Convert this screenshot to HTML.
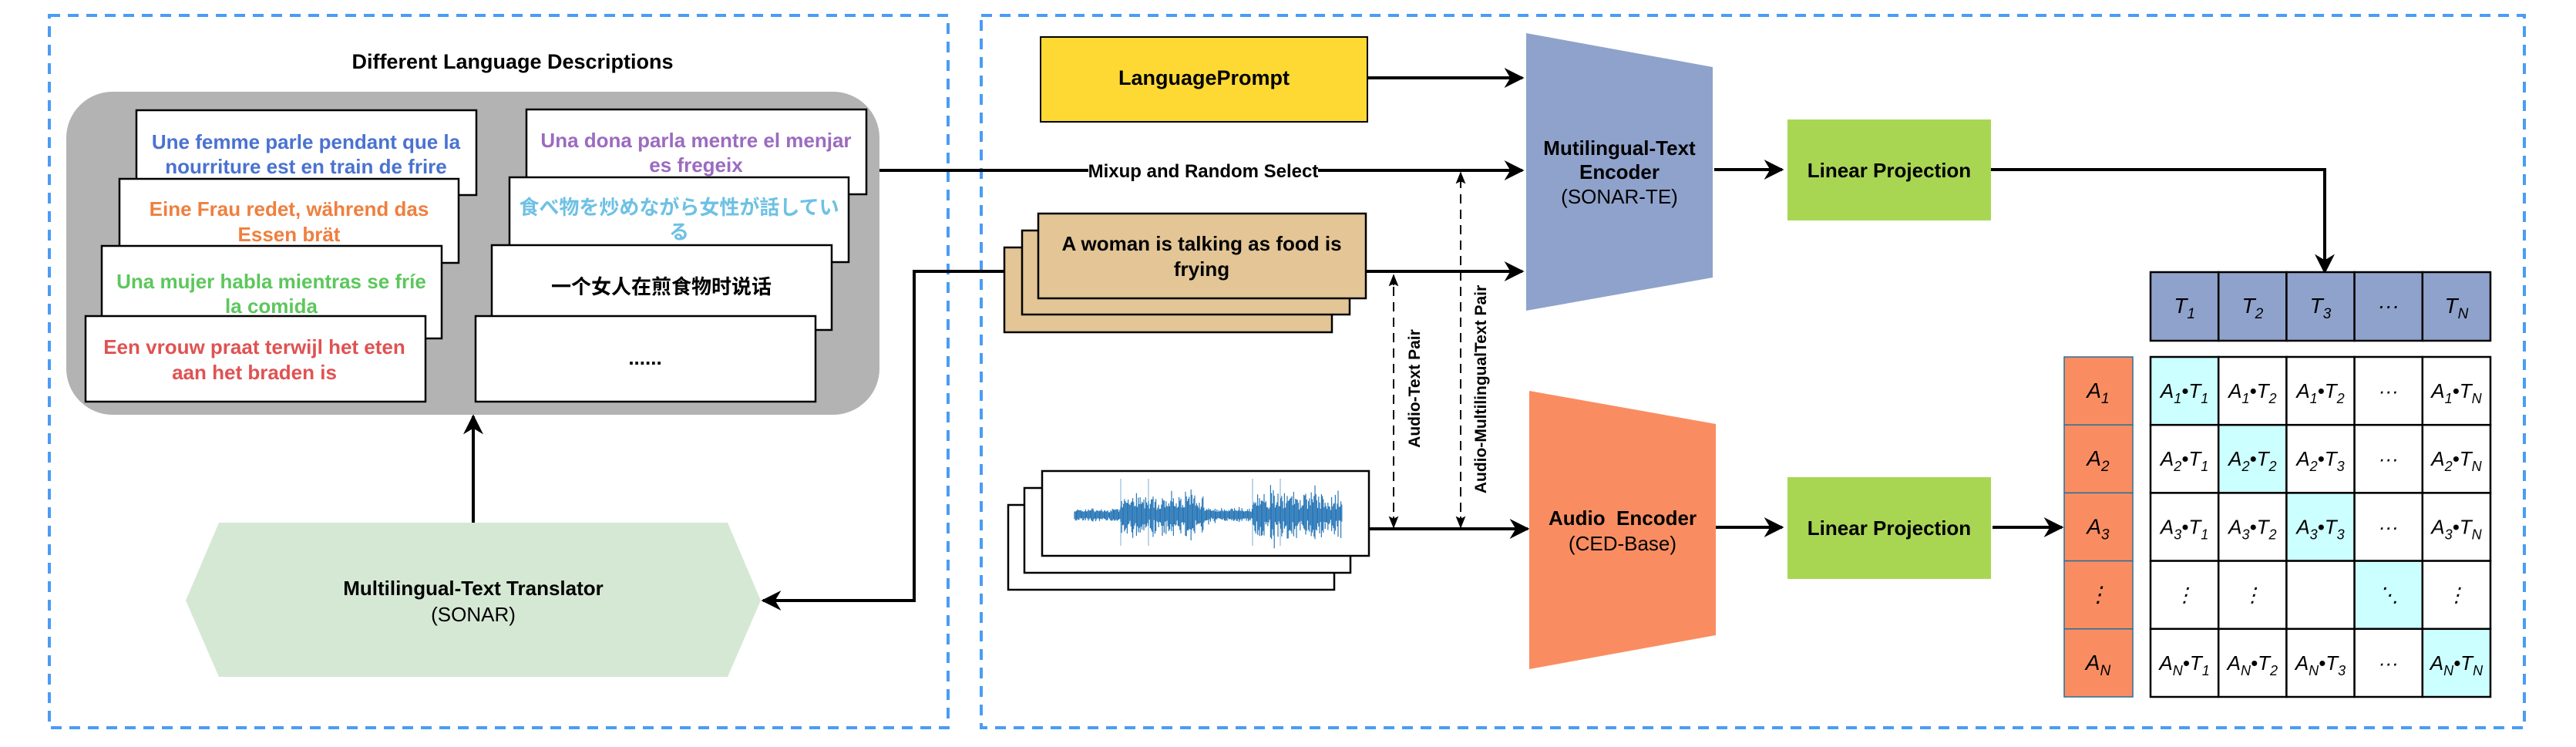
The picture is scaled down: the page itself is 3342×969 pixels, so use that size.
<!DOCTYPE html>
<html><head><meta charset="utf-8"><style>
html,body{margin:0;padding:0;background:#fff;}
svg{display:block;}
text{font-family:"Liberation Sans","Noto Sans CJK SC",sans-serif;}
.b{font-weight:bold;}
</style></head><body>
<svg width="3342" height="969" viewBox="0 0 3342 969" xmlns="http://www.w3.org/2000/svg">
<defs>
<marker id="big" viewBox="0 0 10 10" refX="9" refY="5" markerWidth="26" markerHeight="26" markerUnits="userSpaceOnUse" orient="auto"><path d="M0,0 L10,5 L0,10 L3,5 Z" fill="#000"/></marker>
<marker id="sm" viewBox="0 0 10 10" refX="9" refY="5" markerWidth="16" markerHeight="16" markerUnits="userSpaceOnUse" orient="auto"><path d="M0,1 L10,5 L0,9 L2,5 Z" fill="#000"/></marker>
</defs>
<rect x="64" y="20" width="1166" height="924" fill="none" stroke="#4a9cf5" stroke-width="4" stroke-dasharray="14,10"/>
<rect x="1273" y="20" width="2002" height="924" fill="none" stroke="#4a9cf5" stroke-width="4" stroke-dasharray="14,10"/>

<text x="665" y="89" text-anchor="middle" class="b" font-size="27">Different Language Descriptions</text>
<rect x="86" y="119" width="1055" height="419" rx="60" fill="#b3b3b3"/>

<g stroke="#000" stroke-width="2.5" fill="#fff">
<rect x="177" y="143" width="441" height="110"/>
<rect x="155" y="232" width="440" height="109"/>
<rect x="132" y="319" width="441" height="120"/>
<rect x="111" y="410" width="441" height="111"/>
<rect x="683" y="142" width="441" height="110"/>
<rect x="661" y="230" width="440" height="110"/>
<rect x="638" y="318" width="441" height="110"/>
<rect x="617" y="410" width="441" height="111"/>
</g>
<g font-size="26" text-anchor="middle" class="b">
<text x="397" y="193" fill="#4a72d0">Une femme parle pendant que la</text>
<text x="397" y="225" fill="#4a72d0">nourriture est en train de frire</text>
<text x="375" y="280" fill="#ef7f3e">Eine Frau redet, während das</text>
<text x="375" y="313" fill="#ef7f3e">Essen brät</text>
<text x="352" y="374" fill="#5cc75c">Una mujer habla mientras se fríe</text>
<text x="352" y="406" fill="#5cc75c">la comida</text>
<text x="330" y="459" fill="#e05252">Een vrouw praat terwijl het eten</text>
<text x="330" y="492" fill="#e05252">aan het braden is</text>
<text x="903" y="191" fill="#9b6bc0">Una dona parla mentre el menjar</text>
<text x="903" y="223" fill="#9b6bc0">es fregeix</text>
<text x="881" y="278" fill="#6ec1e4" font-family="'Liberation Sans','Noto Sans CJK JP',sans-serif">食べ物を炒めながら女性が話してい</text>
<text x="881" y="310" fill="#6ec1e4" font-family="'Liberation Sans','Noto Sans CJK JP',sans-serif">る</text>
<text x="858" y="381" fill="#000" font-family="'Liberation Sans','Noto Sans CJK SC',sans-serif">一个女人在煎食物时说话</text>
<text x="837" y="473" fill="#000">......</text>
</g>

<polygon points="284,678 944,678 987,779 944,878 284,878 241,779" fill="#d5e8d4"/>
<text x="614" y="772" text-anchor="middle" class="b" font-size="26">Multilingual-Text Translator</text>
<text x="614" y="806" text-anchor="middle" font-size="26">(SONAR)</text>
<line x1="614" y1="678" x2="614" y2="540" stroke="#000" stroke-width="4" marker-end="url(#big)"/>

<polyline points="1303,352 1186,352 1186,779 990,779" fill="none" stroke="#000" stroke-width="4" marker-end="url(#big)"/>
<line x1="1141" y1="221" x2="1975" y2="221" stroke="#000" stroke-width="4" marker-end="url(#big)"/>
<rect x="1412" y="207" width="298" height="28" fill="#fff"/>
<text x="1561" y="230" text-anchor="middle" class="b" font-size="24">Mixup and Random Select</text>

<rect x="1350" y="48" width="424" height="110" fill="#fed933" stroke="#000" stroke-width="2"/>
<text x="1562" y="110" text-anchor="middle" class="b" font-size="27">LanguagePrompt</text>
<line x1="1774" y1="101" x2="1975" y2="101" stroke="#000" stroke-width="4" marker-end="url(#big)"/>

<g fill="#e3c596" stroke="#000" stroke-width="2.5">
<rect x="1303" y="321" width="425" height="110"/>
<rect x="1326" y="299" width="425" height="109"/>
<rect x="1347" y="277" width="425" height="110"/>
</g>
<text x="1559" y="325" text-anchor="middle" class="b" font-size="26">A woman is talking as food is</text>
<text x="1559" y="358" text-anchor="middle" class="b" font-size="26">frying</text>
<line x1="1772" y1="352" x2="1975" y2="352" stroke="#000" stroke-width="4" marker-end="url(#big)"/>

<g fill="#fff" stroke="#000" stroke-width="2.5">
<rect x="1308" y="655" width="423" height="110"/>
<rect x="1329" y="633" width="423" height="110"/>
<rect x="1352" y="611" width="424" height="110"/>
</g>
<g id="wave" stroke="#2a78b8" stroke-width="1.2"></g>
<line x1="1776" y1="686" x2="1982" y2="686" stroke="#000" stroke-width="4" marker-end="url(#big)"/>

<line x1="1808" y1="684" x2="1808" y2="357" stroke="#000" stroke-width="2" stroke-dasharray="12,8"/>
<line x1="1808" y1="370" x2="1808" y2="357" stroke="#000" stroke-width="2" marker-end="url(#sm)"/>
<line x1="1808" y1="670" x2="1808" y2="684" stroke="#000" stroke-width="2" marker-end="url(#sm)"/>
<line x1="1895" y1="684" x2="1895" y2="224" stroke="#000" stroke-width="2" stroke-dasharray="12,8"/>
<line x1="1895" y1="238" x2="1895" y2="224" stroke="#000" stroke-width="2" marker-end="url(#sm)"/>
<line x1="1895" y1="670" x2="1895" y2="684" stroke="#000" stroke-width="2" marker-end="url(#sm)"/>
<text transform="translate(1842,504) rotate(-90)" text-anchor="middle" class="b" font-size="21">Audio-Text Pair</text>
<text transform="translate(1928,505) rotate(-90)" text-anchor="middle" class="b" font-size="21">Audio-MultilingualText Pair</text>

<polygon points="1980,43 2222,87 2222,360 1980,403" fill="#8fa2cb"/>
<text x="2101" y="201" text-anchor="middle" class="b" font-size="26">Mutilingual-Text</text>
<text x="2101" y="232" text-anchor="middle" class="b" font-size="26">Encoder</text>
<text x="2101" y="264" text-anchor="middle" font-size="26">(SONAR-TE)</text>
<polygon points="1984,507 2226,550 2226,824 1984,868" fill="#f98d61"/>
<text x="2105" y="681" text-anchor="middle" class="b" font-size="26" xml:space="preserve">Audio  Encoder</text>
<text x="2105" y="714" text-anchor="middle" font-size="26">(CED-Base)</text>
<line x1="2224" y1="220" x2="2312" y2="220" stroke="#000" stroke-width="4" marker-end="url(#big)"/>
<line x1="2226" y1="684" x2="2312" y2="684" stroke="#000" stroke-width="4" marker-end="url(#big)"/>

<rect x="2319" y="155" width="264" height="131" fill="#a8d653"/>
<rect x="2319" y="619" width="264" height="132" fill="#a8d653"/>
<text x="2451" y="230" text-anchor="middle" class="b" font-size="26">Linear Projection</text>
<text x="2451" y="694" text-anchor="middle" class="b" font-size="26">Linear Projection</text>
<polyline points="2583,220 3016,220 3016,353" fill="none" stroke="#000" stroke-width="4" marker-end="url(#big)"/>
<line x1="2585" y1="684" x2="2675" y2="684" stroke="#000" stroke-width="4" marker-end="url(#big)"/>

<g id="mat"></g>
</svg>
<script>
(function(){
var ns="http://www.w3.org/2000/svg";
var w=document.getElementById('wave');
var seed=7;function r(){seed=(seed*9301+49297)%233280;return seed/233280;}
for(var x=1394;x<=1741;x+=1.2){
 var a;
 if((x>1453&&x<1563)||(x>1625&&x<1741))a=10+r()*20;
 else a=5+r()*4;
 if(r()<0.05)a*=1.5;
 var l=document.createElementNS(ns,'line');
 l.setAttribute('x1',x);l.setAttribute('x2',x);
 l.setAttribute('y1',668-a*(0.6+r()*0.5));l.setAttribute('y2',668+a*(0.6+r()*0.5));
 w.appendChild(l);
}
[1454,1490,1625,1661].forEach(function(x){var l=document.createElementNS(ns,'line');l.setAttribute('x1',x);l.setAttribute('x2',x);l.setAttribute('y1',621);l.setAttribute('y2',708);l.setAttribute('stroke-width','1');l.setAttribute('opacity','0.6');w.appendChild(l);});
var m=document.getElementById('mat');
var cw=88.2,X0=2790,Y0=463,TY=353;
var html='';
var T=['T<tspan font-size="19" dy="7">1</tspan>','T<tspan font-size="19" dy="7">2</tspan>','T<tspan font-size="19" dy="7">3</tspan>','···','T<tspan font-size="19" dy="7">N</tspan>'];
for(var i=0;i<5;i++){
 html+='<rect x="'+(X0+i*cw)+'" y="'+TY+'" width="'+cw+'" height="89" fill="#8fa2cb" stroke="#000" stroke-width="2.5"/>';
 html+='<text x="'+(X0+i*cw+cw/2)+'" y="'+(TY+53)+'" text-anchor="middle" font-size="28" font-style="italic">'+T[i]+'</text>';
}
var A=['1','2','3',null,'N'];
for(var j=0;j<5;j++){
 html+='<rect x="2678" y="'+(Y0+j*cw)+'" width="89" height="'+cw+'" fill="#f98d61" stroke="#2a6f9a" stroke-width="1.5"/>';
 var lab=A[j]?'A<tspan font-size="19" dy="7">'+A[j]+'</tspan>':'⋮';
 html+='<text x="2722" y="'+(Y0+j*cw+53)+'" text-anchor="middle" font-size="28" font-style="italic">'+lab+'</text>';
}
var sub=['1','2','3','','N'];
for(var j=0;j<5;j++)for(var i=0;i<5;i++){
 var fill=(i==j)?'#ccffff':'#fff';
 html+='<rect x="'+(X0+i*cw)+'" y="'+(Y0+j*cw)+'" width="'+cw+'" height="'+cw+'" fill="'+fill+'" stroke="#000" stroke-width="2.5"/>';
 var s;
 if(j==3){s=(i==3)?'⋱':(i==2?'':'⋮');}
 else if(i==3)s='···';
 else{var ti=(j==0&&i==2)?'2':sub[i];s='A<tspan font-size="18" dy="7">'+sub[j]+'</tspan><tspan dy="-7">•</tspan>T<tspan font-size="18" dy="7">'+ti+'</tspan>';}
 html+='<text x="'+(X0+i*cw+cw/2)+'" y="'+(Y0+j*cw+53)+'" text-anchor="middle" font-size="26" font-style="italic">'+s+'</text>';
}
m.innerHTML=html;
})();
</script>
</body></html>
